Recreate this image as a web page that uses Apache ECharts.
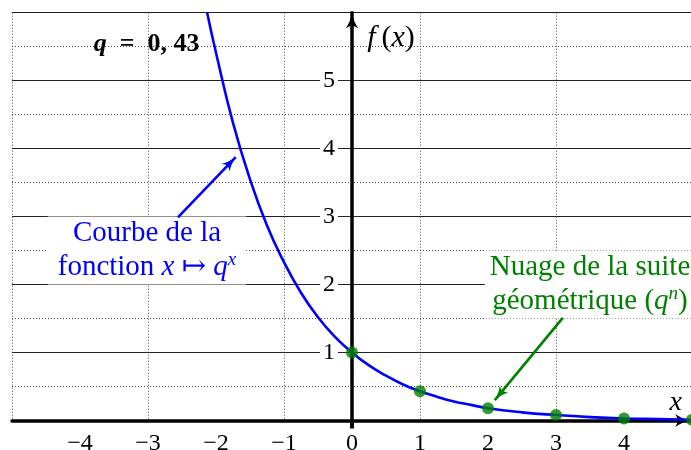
<!DOCTYPE html>
<html>
<head>
<meta charset="utf-8">
<script src="https://cdn.jsdelivr.net/npm/echarts@6/dist/echarts.min.js"></script>
<style>
  html, body { margin: 0; padding: 0; background: #fff; }
  #chart { width: 691px; height: 450px; }
</style>
</head>
<body>
<div id="chart"></div>
<script>
// Curve of x ↦ q^x (q = 0.43), sampled along x
const curveX = [-2.13, -2, -1.75, -1.5, -1.25, -1, -0.75, -0.5, -0.25, 0, 0.25, 0.5, 0.75, 1, 1.25, 1.5, 1.75, 2, 2.5, 3, 3.5, 4, 4.5, 5];
const curveY = [6.0, 5.41, 4.38, 3.55, 2.87, 2.33, 1.88, 1.52, 1.23, 1, 0.81, 0.66, 0.53, 0.43, 0.35, 0.28, 0.23, 0.18, 0.12, 0.08, 0.05, 0.03, 0.02, 0.01];

// Terms of the geometric sequence (q^n)
const seqN = [0, 1, 2, 3, 4, 5];
const seqValues = [1, 0.43, 0.18, 0.08, 0.03, 0.01];

// Tick labels
const xTicks = [-4, -3, -2, -1, 0, 1, 2, 3, 4];
const yTicks = [1, 2, 3, 4, 5];

// Annotation arrows: [start, tip] in data coordinates
const curveArrow = [[-2.56, 2.99], [-1.71, 3.875]];
const seqArrow = [[3.10, 1.51], [2.10, 0.30]];

const SERIF = "'Liberation Serif', 'DejaVu Serif', serif";
const BLUE = '#0000ff';
const GREEN = '#008000';
const MAJOR = '#222222';
const MINOR = '#4a4a4a';
const NONE = 'rgba(0,0,0,0)';

const GRID = { left: 12, right: -1, top: 12.7, bottom: 29.5 };
const X_MIN = -5, X_MAX = 5, Y_MIN = 0, Y_MAX = 6;

const arrowHead = 'path://M5,0 C5.6,4 7.4,8.6 10,12 C7.8,10.7 6.3,10.1 5,10.1 C3.7,10.1 2.2,10.7 0,12 C2.6,8.6 4.4,4 5,0 Z';

const minus = v => (v < 0 ? '\u2212' + Math.abs(v) : String(v));

const dom = document.getElementById('chart');
const chart = echarts.init(dom, null, { renderer: 'canvas' });

// distance from the grid's left edge to x = 0, so the vertical axis crosses there
const gridWidth = dom.clientWidth - GRID.left - GRID.right;
const yAxisShift = gridWidth * (0 - X_MIN) / (X_MAX - X_MIN);

const hiddenAxisBase = {
  type: 'value',
  axisLine: { show: false, onZero: false },
  axisTick: { show: false },
  axisLabel: { show: false }
};

// one annotation arrow: plain start, arrow head at the tip
function arrowLine(seg, color) {
  return {
    silent: true,
    symbol: ['none', 'none'],
    label: { show: false },
    emphasis: { disabled: true },
    lineStyle: { color: color, width: 2.6, type: 'solid' },
    data: [[
      { coord: seg[0], symbol: 'none' },
      { coord: seg[1], symbol: arrowHead, symbolSize: [11, 15], symbolOffset: [0, 7] }
    ]]
  };
}

chart.setOption({
  animation: false,
  backgroundColor: '#fff',
  grid: Object.assign({ outerBoundsMode: 'none', containLabel: false }, GRID),
  xAxis: [
    {
      type: 'value', min: X_MIN, max: X_MAX, interval: 1, z: 3, position: 'bottom',
      axisLine: {
        onZero: false,
        lineStyle: { color: '#000', width: 3.5 },
        symbol: ['none', arrowHead], symbolSize: [13, 16], symbolOffset: [0, -9]
      },
      axisTick: { show: true, customValues: [0], length: 8, inside: false, lineStyle: { color: '#000', width: 4 } },
      axisLabel: { customValues: xTicks, formatter: minus, fontFamily: SERIF, fontSize: 24, color: '#000', margin: 11 },
      // solid lines on even abscissas
      splitLine: { show: true, lineStyle: { color: [NONE, MAJOR], width: 1.2 } }
    },
    Object.assign({}, hiddenAxisBase, {
      min: X_MIN, max: X_MAX, interval: 1, position: 'top',
      // dotted lines on odd abscissas
      splitLine: { show: true, lineStyle: { color: [MINOR, NONE], width: 1, type: [1, 2] } }
    })
  ],
  yAxis: [
    {
      type: 'value', min: Y_MIN, max: Y_MAX, interval: 1, z: 3, position: 'left',
      offset: -yAxisShift,
      axisLine: {
        onZero: false,
        lineStyle: { color: '#000', width: 3.5 },
        symbol: ['none', arrowHead], symbolSize: [13, 16], symbolOffset: [0, -8]
      },
      axisTick: { show: false },
      axisLabel: {
        customValues: yTicks, fontFamily: SERIF, fontSize: 24, color: '#000',
        margin: 14, backgroundColor: '#fff', padding: [2, 3]
      },
      splitLine: { show: false }
    },
    Object.assign({}, hiddenAxisBase, {
      min: Y_MIN, max: Y_MAX, interval: 0.5, position: 'left',
      // solid lines on integer ordinates
      splitLine: { show: true, lineStyle: { color: [MAJOR, NONE], width: 1.2 } }
    }),
    Object.assign({}, hiddenAxisBase, {
      min: Y_MIN, max: Y_MAX, interval: 0.5, position: 'right',
      // dotted lines on half-integer ordinates
      splitLine: { show: true, lineStyle: { color: [NONE, MINOR], width: 1, type: [1, 2] } }
    })
  ],
  series: [
    {
      name: 'f(x) = q^x',
      type: 'line',
      xAxisIndex: 0, yAxisIndex: 0,
      data: curveX.map((x, i) => [x, curveY[i]]),
      smooth: true,
      showSymbol: false,
      clip: true,
      lineStyle: { color: BLUE, width: 2.6 },
      z: 4,
      silent: true,
      markLine: arrowLine(curveArrow, BLUE)
    },
    {
      name: '(q^n)',
      type: 'scatter',
      xAxisIndex: 0, yAxisIndex: 0,
      data: seqN.map((n, i) => [n, seqValues[i]]),
      symbolSize: 12,
      itemStyle: { color: GREEN },
      clip: false,
      z: 5,
      silent: true,
      markLine: arrowLine(seqArrow, GREEN)
    }
  ]
});

// Text annotations anchored in data coordinates
const px = p => chart.convertToPixel({ xAxisIndex: 0, yAxisIndex: 0 }, p);

function textEl(pos, text, style) {
  const p = px(pos);
  return {
    type: 'text', x: p[0], y: p[1], z: 1, silent: true,
    style: Object.assign({
      text: text,
      align: 'center', verticalAlign: 'middle',
      textAlign: 'center', textVerticalAlign: 'middle',
      fontFamily: SERIF, fill: '#000'
    }, style)
  };
}

chart.setOption({
  graphic: [
    textEl([-3.02, 5.53], '{bi|q}{b|\u2002=\u20020, 43}', {
      fontSize: 26,
      rich: {
        bi: { fontFamily: SERIF, fontSize: 26, fontWeight: 'bold', fontStyle: 'italic', fill: '#000' },
        b: { fontFamily: SERIF, fontSize: 26, fontWeight: 'bold', fill: '#000' }
      }
    }),
    textEl([0.574, 5.625], '{i|f\u2009}{r|(}{i|x}{r|)}', {
      fontSize: 30,
      rich: {
        i: { fontFamily: SERIF, fontSize: 30, fontStyle: 'italic', fill: '#000' },
        r: { fontFamily: SERIF, fontSize: 30, fill: '#000' }
      }
    }),
    textEl([4.76, 0.27], '{i|x}', {
      fontSize: 28,
      rich: { i: { fontFamily: SERIF, fontSize: 28, fontStyle: 'italic', fill: '#000' } }
    }),
    textEl([-3.015, 2.5], '{r|Courbe de la}\n{r|fonction }{i|x}{r| ↦ }{i|q}{s|x}', {
      fontSize: 29, lineHeight: 34,
      backgroundColor: '#fff', padding: [0, 10],
      rich: {
        r: { fontFamily: SERIF, fontSize: 29, lineHeight: 34, fill: BLUE },
        i: { fontFamily: SERIF, fontSize: 29, lineHeight: 34, fontStyle: 'italic', fill: BLUE },
        s: { fontFamily: SERIF, fontSize: 19, lineHeight: 24, fontStyle: 'italic', fill: BLUE, verticalAlign: 'top' }
      }
    }),
    textEl([3.5, 2.0], '{r|Nuage de la suite}\n{r|géométrique (}{i|q}{s|n}{r|)}', {
      fontSize: 29, lineHeight: 34,
      backgroundColor: '#fff', padding: [0, 5],
      rich: {
        r: { fontFamily: SERIF, fontSize: 29, lineHeight: 34, fill: GREEN },
        i: { fontFamily: SERIF, fontSize: 29, lineHeight: 34, fontStyle: 'italic', fill: GREEN },
        s: { fontFamily: SERIF, fontSize: 19, lineHeight: 24, fontStyle: 'italic', fill: GREEN, verticalAlign: 'top' }
      }
    })
  ]
});
</script>
</body>
</html>
